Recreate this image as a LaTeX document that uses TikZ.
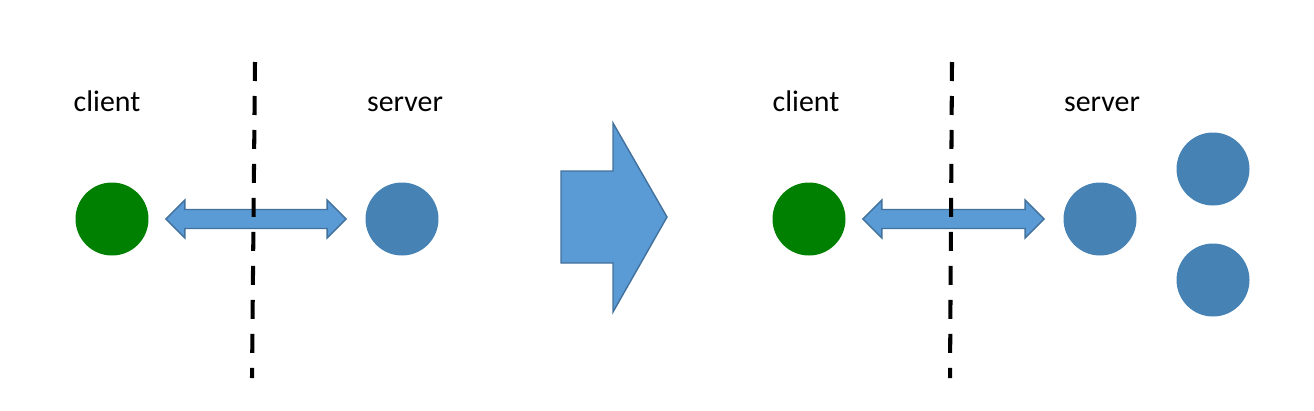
\documentclass[tikz,border=0pt]{standalone}
\usepackage{fontspec}
\setmainfont{Carlito}
\usetikzlibrary{calc}

\definecolor{cgreen}{RGB}{0,128,0}
\definecolor{sblue}{RGB}{70,130,180}
\definecolor{afill}{RGB}{91,155,213}
\definecolor{aline}{RGB}{65,113,156}

\tikzset{
  host/.style={circle, minimum size=1.46cm, inner sep=0pt},
  clientdot/.style={host, fill=cgreen},
  serverdot/.style={host, fill=sblue},
  tag/.style={font=\fontsize{17}{20}\selectfont, inner sep=0pt, anchor=base},
  blockarr/.style={fill=afill, draw=aline, line width=0.8pt, line join=miter},
  divider/.style={line width=2.3pt, dash pattern=on 0.38cm off 0.3cm}
}

% block arrow between two hosts
\newcommand{\linkarrow}[2]{%
  \draw[blockarr] ($(#1.east)+(17,0)$) coordinate (t1)
    -- ++(19,-19) -- ++(0,9.5) -- ($(#2.west)+(-38,-9.5)$) -- ++(0,-9.5)
    -- ($(#2.west)+(-19,0)$) coordinate (t2)
    -- ++(-19,19) -- ++(0,-9.5) -- ($(t1)+(19,9.5)$) -- ++(0,9.5) -- cycle;
}

\begin{document}
\begin{tikzpicture}[x=0.02cm, y=-0.02cm]
\useasboundingbox (0,0) rectangle (1314,410);

% before
\node[tag] (lbl-c1) at (107,111) {client};
\node[tag] (lbl-s1) at (405,111) {server};
\node[clientdot] (c1) at (112,219) {};
\node[serverdot] (s1) at (402,219) {};
\linkarrow{c1}{s1}
\draw[divider] (255,62) -- (252,378);

% big arrow
\draw[blockarr] (561,171) -- (613,171) -- (613,123) -- (667,217)
  -- (613,312) -- (613,263) -- (561,263) -- cycle;

% after
\node[tag] (lbl-c2) at (806,111) {client};
\node[tag] (lbl-s2) at (1102,111) {server};
\node[clientdot] (c2) at (809,219) {};
\node[serverdot] (s2) at (1100,219) {};
\linkarrow{c2}{s2}
\draw[divider] (952,62) -- (950,378);

\foreach \y [count=\i] in {169,280}
{
  \node[serverdot] (s2-\i) at (1213,\y) {};
}

\end{tikzpicture}
\end{document}
